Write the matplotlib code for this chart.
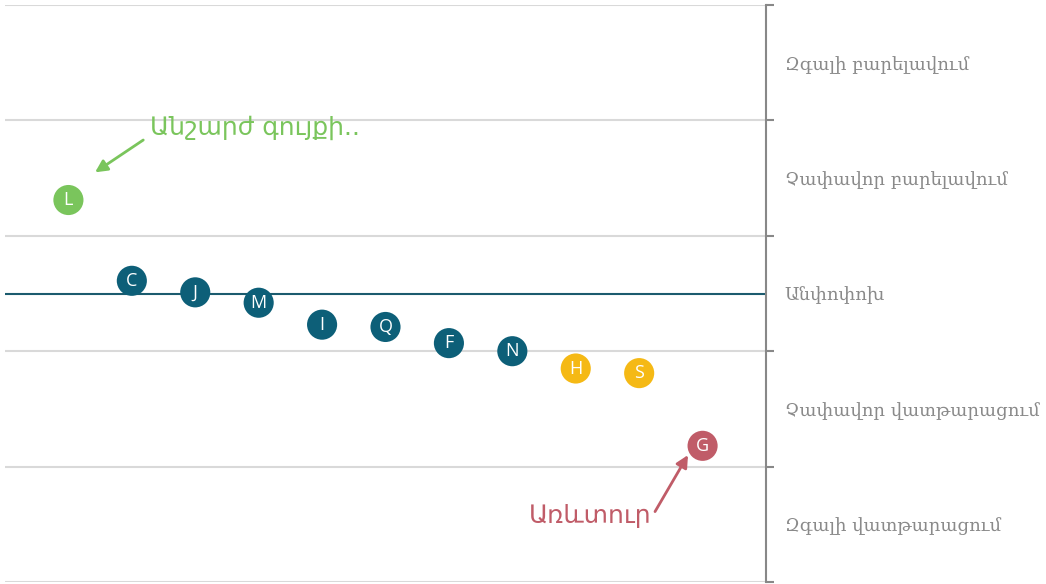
import matplotlib
matplotlib.use("Agg")
from matplotlib import pyplot as plt
import numpy as np

# sectors, in display order
letters = ["L", "C", "J", "M", "I", "Q", "F", "N", "H", "S", "G"]
scores = [0.81, 0.11, 0.01, -0.08, -0.27, -0.29, -0.43, -0.50, -0.65, -0.69, -1.32]
groups = ["up", "mid", "mid", "mid", "mid", "mid", "mid", "mid", "low", "low", "down"]

band_edges = [-2.5, -1.5, -0.5, 0.5, 1.5, 2.5]
band_labels = ["Զգալի վատթարացում", "Չափավոր վատթարացում", "Անփոփոխ",
               "Չափավոր բարելավում", "Զգալի բարելավում"]

colors = {"up": "#7ac55c", "mid": "#0d5f78", "low": "#f5b915", "down": "#c05c68"}

fig = plt.figure(figsize=(10.46, 5.84), dpi=100)
ax = fig.add_axes([5/1046, 2/584, 761/1046, 577/584])

x = np.arange(1, len(letters) + 1)

for e in band_edges:
    ax.axhline(e, color="#d9d9d9", lw=1.5, zorder=1)
ax.axhline(0, color="#1b5b6e", lw=1.5, zorder=2)

for xi, yi, let, g in zip(x, scores, letters, groups):
    ax.scatter(xi, yi, s=470, color=colors[g], zorder=3, edgecolors="none")
    ax.text(xi, yi, let, color="white", fontsize=13, ha="center", va="center",
            family="Open Sans", zorder=4)

# annotations
green = colors["up"]
red = colors["down"]
ax.text(2.29, 1.44, "Անշարժ գույքի..", color=green, fontsize=18,
        family="DejaVu Sans", ha="left", va="center")
ax.annotate("", xy=(1.42, 1.05), xytext=(2.18, 1.33),
            arrowprops=dict(arrowstyle="-|>", color=green, lw=2,
                            mutation_scale=18, shrinkA=0, shrinkB=0))
ax.text(10.2, -1.93, "Առևտուր", color=red, fontsize=18,
        family="DejaVu Sans", ha="right", va="center")
ax.annotate("", xy=(10.77, -1.40), xytext=(10.25, -1.89),
            arrowprops=dict(arrowstyle="-|>", color=red, lw=2,
                            mutation_scale=18, shrinkA=0, shrinkB=0))

ax.set_xlim(0, 12)
ax.set_ylim(-2.5, 2.5)
ax.set_xticks([])

for s in ["top", "bottom", "left"]:
    ax.spines[s].set_visible(False)
ax.spines["right"].set_color("#888888")
ax.spines["right"].set_linewidth(1.5)

ax.yaxis.tick_right()
ax.set_yticks(band_edges)
ax.set_yticklabels([])
ax.tick_params(axis="y", which="major", length=6, width=1.5, color="#888888")
ax.set_yticks([-2, -1, 0, 1, 2], minor=True)
ax.set_yticklabels(band_labels, minor=True, family="DejaVu Serif",
                   fontsize=13, color="#8a8a8a")
ax.tick_params(axis="y", which="minor", length=0, pad=13.5)

fig.savefig("out.png", dpi=100)
